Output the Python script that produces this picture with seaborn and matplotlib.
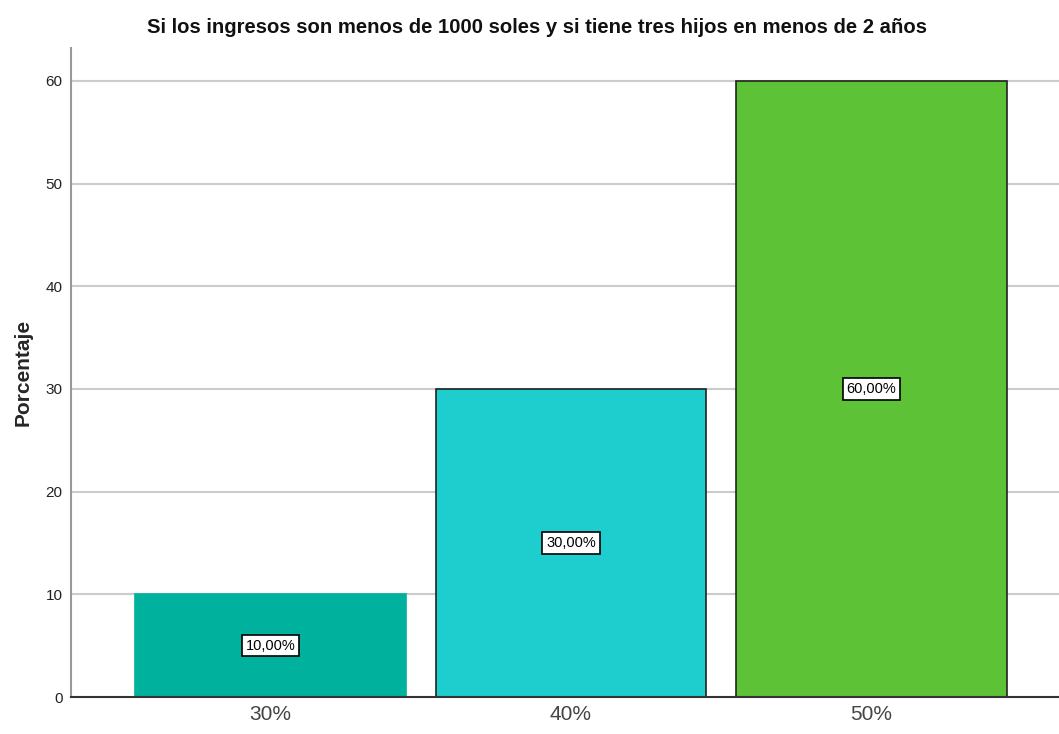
import matplotlib
matplotlib.use('Agg')
import seaborn as sns
import pandas as pd
from matplotlib import pyplot as plt

categorias = ['30%', '40%', '50%']
porcentajes = [10, 30, 60]
etiquetas = ['10,00%', '30,00%', '60,00%']
colores = ['#00b19e', '#1ecece', '#5ec236']
bordes = ['#00b19e', '#222222', '#222222']

sns.set_style('white')
plt.rcParams['font.family'] = ['Liberation Sans Narrow', 'Liberation Sans', 'DejaVu Sans']

df = pd.DataFrame({'cat': categorias, 'pct': porcentajes})

fig = plt.figure(figsize=(10.59, 7.34), dpi=100)
ax = fig.add_axes([0.067, 0.0504, 0.933, 0.8842])

# grid first so bars cover it
for v in [10, 20, 30, 40, 50, 60]:
    ax.axhline(v, color='#cccccc', lw=1.5, zorder=0)

sns.barplot(data=df, x='cat', y='pct', hue='cat', palette=colores, width=0.9,
            saturation=1, legend=False, ax=ax, zorder=2)
for p, ec in zip(ax.patches, bordes):
    p.set_edgecolor(ec)
    p.set_linewidth(1.2)

for i, (v, t) in enumerate(zip(porcentajes, etiquetas)):
    ax.text(i, v / 2, t, ha='center', va='center', fontsize=10.5, color='black', zorder=5,
            bbox=dict(boxstyle='square,pad=0.25', fc='white', ec='black', lw=1.2))

ax.set_xlim(-0.664, 2.624)
ax.set_ylim(0, 63.2)
ax.set_yticks([0, 10, 20, 30, 40, 50, 60])
ax.tick_params(axis='y', length=0, labelsize=11, pad=6, labelcolor='#222222')
ax.tick_params(axis='x', length=0, labelsize=15, pad=6, labelcolor='#444444')
ax.set_xlabel('')
ax.set_ylabel('Porcentaje', fontsize=15, fontweight='bold', labelpad=9)
ax.set_title('Si los ingresos son menos de 1000 soles y si tiene tres hijos en menos de 2 años',
             fontsize=14.6, fontweight='bold', pad=11, color='#111111', x=0.472)

for s in ['top', 'right']:
    ax.spines[s].set_visible(False)
ax.spines['left'].set_color('#999999')
ax.spines['left'].set_linewidth(1.5)
ax.spines['bottom'].set_color('#333333')
ax.spines['bottom'].set_linewidth(1.5)

fig.savefig('out.png', dpi=100)
